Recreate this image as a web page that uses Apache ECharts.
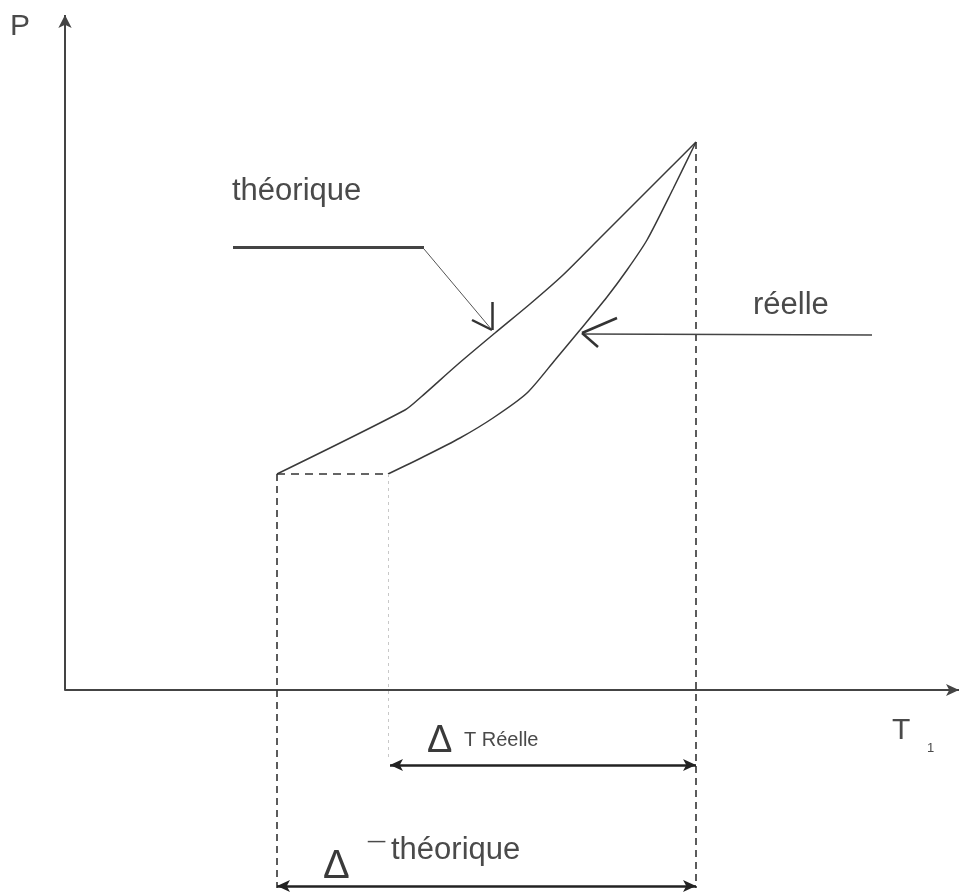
<!DOCTYPE html>
<html>
<head>
<meta charset="utf-8">
<script src="https://cdn.jsdelivr.net/npm/echarts@6/dist/echarts.min.js"></script>
<style>html,body{margin:0;padding:0;background:#fff}#c{width:959px;height:896px}</style>
</head>
<body>
<div id="c"></div>
<script>
// Theoretical curve (T, P)
const theoT = [212, 340, 356, 392, 430, 465, 498, 535, 568, 602, 631];
const theoP = [216, 280, 293, 325, 357, 386, 415, 452, 485, 519, 548];
// Real curve (T, P)
const reelT = [323, 358, 395, 428, 462, 490, 515, 542, 562, 582, 608, 631];
const reelP = [216, 233, 252, 272, 297, 330, 360, 393, 420, 450, 501, 548];
// key positions
const T_theo = 212, T_reel = 323, T_end = 631, P_start = 216;
const Y_arrowReel = -75, Y_arrowTheo = -196, Y_bottom = -198, Y_dotEnd = -70;
const P_max = 675, T_max = 894, Y_min = -200;
// leaders
const theoLeaderH = [[168, 443], [359, 443]];
const theoLeaderTip = [[359, 441], [427, 360]];
const theoHead = [[[427, 388], [427, 360]], [[407, 370], [427, 360]]];
const reelLeader = [[807, 355], [518, 356]];
const reelHead = [[[552, 372], [517, 357]], [[533, 343], [517, 357]]];

function seg(a, b, style, s1, s2, size) {
  return [
    {coord: a, symbol: s1 || 'none', symbolSize: size, lineStyle: style},
    {coord: b, symbol: s2 || 'none', symbolSize: size, lineStyle: style}
  ];
}
const dashStyle = {color: '#333', width: 1.6, type: [7, 5]};
const markData = [
  // y axis
  seg([0, 0], [0, P_max], {color: '#444', width: 2, type: 'solid'}, 'none', 'arrow', [10, 13]),
  // dashed guides
  seg([T_theo, P_start], [T_theo, Y_bottom], dashStyle),
  seg([T_theo, P_start], [T_reel, P_start], {color: '#333', width: 1.6, type: [8, 6]}),
  seg([T_end, 548], [T_end, Y_bottom], dashStyle),
  seg([T_reel, P_start], [T_reel, Y_dotEnd], {color: '#c8c8c8', width: 1, type: [3, 4]}),
  // double arrows
  seg([T_reel + 2, Y_arrowReel], [T_end, Y_arrowReel], {color: '#222', width: 2.5, type: 'solid'}, 'arrow', 'arrow', [9, 13]),
  seg([T_theo, Y_arrowTheo], [T_end, Y_arrowTheo], {color: '#222', width: 2.5, type: 'solid'}, 'arrow', 'arrow', [9, 13]),
  // leaders
  seg(theoLeaderH[0], theoLeaderH[1], {color: '#444', width: 3, type: 'solid'}),
  seg(theoLeaderTip[0], theoLeaderTip[1], {color: '#555', width: 1, type: 'solid'}),
  seg(theoHead[0][0], theoHead[0][1], {color: '#333', width: 2.5, type: 'solid'}),
  seg(theoHead[1][0], theoHead[1][1], {color: '#333', width: 2.5, type: 'solid'}),
  seg(reelLeader[0], reelLeader[1], {color: '#444', width: 1.5, type: 'solid'}),
  seg(reelHead[0][0], reelHead[0][1], {color: '#333', width: 2.5, type: 'solid'}),
  seg(reelHead[1][0], reelHead[1][1], {color: '#333', width: 2.5, type: 'solid'})
];

const chart = echarts.init(document.getElementById('c'));
const font = '"Liberation Sans", Arial, sans-serif';
const txt = (t, x, y, size, color) => ({
  type: 'text', z: 100,
  style: {text: t, x: x, y: y, font: size + 'px ' + font, fill: color || '#4a4a4a', textAlign: 'left', textVerticalAlign: 'middle'}
});

chart.setOption({
  animation: false,
  backgroundColor: '#fff',
  grid: {left: 65, right: 0, top: 15, bottom: 6},
  xAxis: {
    type: 'value', min: 0, max: T_max,
    axisLine: {show: true, onZero: true, symbol: ['none', 'arrow'], symbolSize: [9, 13], lineStyle: {color: '#444', width: 2}},
    axisTick: {show: false}, axisLabel: {show: false}, splitLine: {show: false}
  },
  yAxis: {
    type: 'value', min: Y_min, max: P_max,
    axisLine: {show: false}, axisTick: {show: false}, axisLabel: {show: false}, splitLine: {show: false}
  },
  series: [
    {name: 'théorique', type: 'line', data: theoT.map((t, i) => [t, theoP[i]]), symbol: 'none', smooth: 0.25,
     lineStyle: {color: '#3a3a3a', width: 1.5}},
    {name: 'réelle', type: 'line', data: reelT.map((t, i) => [t, reelP[i]]), symbol: 'none', smooth: 0.25,
     lineStyle: {color: '#3a3a3a', width: 1.5}},
    {name: 'guides', type: 'line', data: [], markLine: {silent: true, animation: false, symbol: ['none', 'none'],
      label: {show: false}, emphasis: {disabled: true}, data: markData}}
  ],
  graphic: [
    txt('P', 10, 27, 30),
    txt('T', 892, 731, 30),
    txt('1', 927, 748, 13),
    txt('théorique', 232, 191, 31),
    txt('réelle', 753, 305, 31),
    txt('Δ', 427, 742, 38, '#3a3a3a'),
    txt('T Réelle', 464, 740, 20),
    txt('Δ', 323, 867, 40, '#3a3a3a'),
    txt('¯', 368, 856, 31),
    txt('théorique', 391, 850, 31)
  ]
});
</script>
</body>
</html>
